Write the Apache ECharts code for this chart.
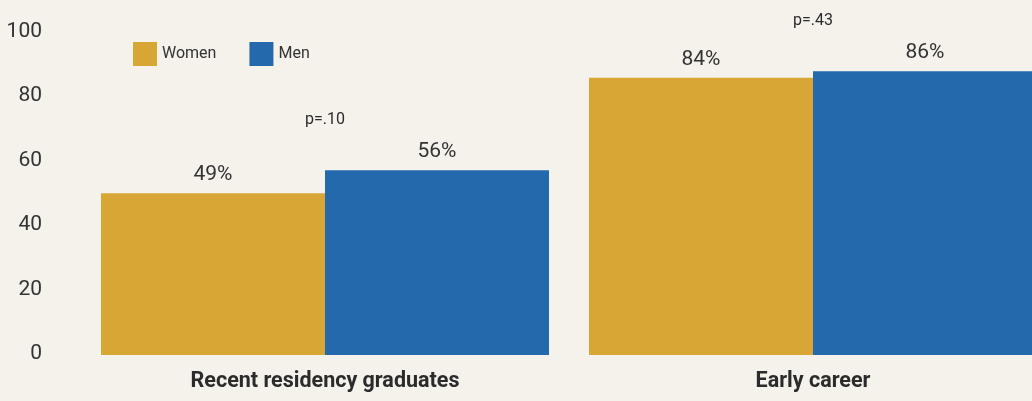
<!DOCTYPE html>
<html><head><meta charset="utf-8">
<script src="https://cdn.jsdelivr.net/npm/echarts@6/dist/echarts.min.js"></script>
<style>html,body{margin:0;padding:0;background:#F5F1EB;}#c{width:1032px;height:401px;}</style>
</head><body><div id="c"></div>
<script>
const categories = ['Recent residency graduates', 'Early career'];
const women = [49, 84];
const men = [56, 86];
const pValues = ['p=.10', 'p=.43'];
const yTicks = [0, 20, 40, 60, 80, 100];

const font = "'Liberation Sans Narrow', 'Roboto', sans-serif";
// small per-tick vertical nudge of the y labels (styling only)
const tickRich = {};
yTicks.forEach(v => {
  const d = Math.round(0.08 * v - 1);
  tickRich['t' + v] = {
    fontFamily: font, fontSize: 21, color: '#333',
    padding: d >= 0 ? [2 * d, 0, 0, 0] : [0, 0, -2 * d, 0]
  };
});

const chart = echarts.init(document.getElementById('c'));
chart.setOption({
  backgroundColor: '#F5F1EB',
  animation: false,
  textStyle: { fontFamily: font },
  grid: { left: 81, width: 976, top: 25, bottom: 46, outerBoundsMode: 'none', containLabel: false },
  legend: {
    left: 133, top: 42, padding: 0, itemWidth: 24, itemHeight: 24, itemGap: 33,
    icon: 'rect',
    data: ['Women', 'Men'],
    textStyle: { fontFamily: font, fontSize: 16, color: '#333' }
  },
  xAxis: {
    type: 'category', data: categories,
    axisLine: { show: false }, axisTick: { show: false },
    axisLabel: { fontFamily: font, fontSize: 21.5, fontWeight: 'bold', color: '#2b2b2b', margin: 16 }
  },
  yAxis: {
    type: 'value', min: yTicks[0], max: yTicks[yTicks.length - 1], interval: 20,
    splitLine: { show: false }, axisLine: { show: false }, axisTick: { show: false },
    axisLabel: {
      margin: 39, verticalAlign: 'middle',
      formatter: v => '{t' + v + '|' + v + '}',
      rich: tickRich
    }
  },
  series: [
    {
      name: 'Women', type: 'bar', data: women, barGap: '0%', barCategoryGap: '8.2%',
      itemStyle: { color: '#D8A634' },
      label: { show: true, position: 'top', distance: 8, formatter: '{c}%', fontFamily: font, fontSize: 21, color: '#333' }
    },
    {
      name: 'Men', type: 'bar', data: men,
      itemStyle: { color: '#2369AB' },
      label: { show: true, position: 'top', distance: 8, formatter: '{c}%', fontFamily: font, fontSize: 21, color: '#333' }
    },
    {
      name: 'p', type: 'scatter', symbolSize: 0, silent: true,
      itemStyle: { opacity: 1 },
      data: categories.map((c, i) => ({ value: [c, Math.max(women[i], men[i])], p: pValues[i] })),
      label: { show: true, position: 'top', distance: 42, formatter: (d) => d.data.p, fontFamily: font, fontSize: 16, color: '#2b2b2b' }
    }
  ]
});
</script></body></html>
